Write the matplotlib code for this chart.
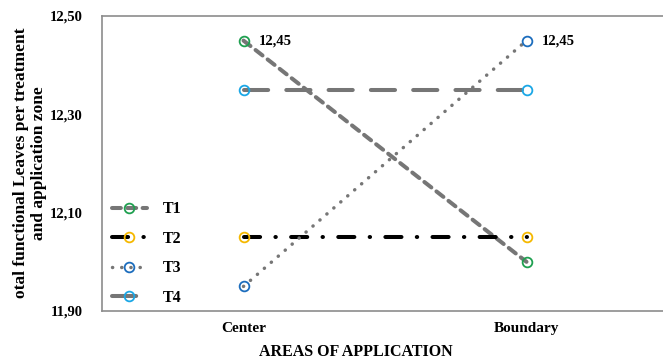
import matplotlib
matplotlib.use("Agg")
import matplotlib.pyplot as plt

# valores
zones = ["Center", "Boundary"]
t1 = [12.45, 12.00]
t2 = [12.05, 12.05]
t3 = [11.95, 12.45]
t4 = [12.35, 12.35]
y_ticks = [11.90, 12.10, 12.30, 12.50]
y_tick_labels = ["11,90", "12,10", "12,30", "12,50"]

plt.rcParams["font.family"] = ["Liberation Serif", "DejaVu Serif"]
plt.rcParams["font.weight"] = "bold"

fig = plt.figure(figsize=(6.63, 3.62), dpi=100)
ax = fig.add_axes([102 / 663, 51 / 362, 566 / 663, 295 / 362])

x = [0, 1]
gray = "#767676"
mk = dict(marker="o", markersize=7, markerfacecolor="none", markeredgewidth=1.3)

ax.plot(x, t1, color=gray, lw=2.9, dashes=(2.2, 1.6), dash_capstyle="round",
        markeredgecolor="#1fa050", label="T1", **mk)
ax.plot(x, t2, color="black", lw=2.9, dashes=(4.0, 3.8, 0.1, 3.8), dash_capstyle="round",
        markeredgecolor="#f5b800", label="T2", **mk)
ax.plot(x, t3, color=gray, lw=2.5, dashes=(0.05, 2.6), dash_capstyle="round",
        markeredgecolor="#1c6dbd", label="T3", **mk)
ax.plot(x, t4, color=gray, lw=2.9, dashes=(6.0, 4.5), dash_capstyle="round",
        markeredgecolor="#1aa7e6", label="T4", **mk)

ax.annotate("12,45", (0, t1[0]), xytext=(11, 0), textcoords="offset points",
            va="center", ha="left", fontsize=10.5, fontweight="bold")
ax.annotate("12,45", (1, t3[1]), xytext=(11, 0), textcoords="offset points",
            va="center", ha="left", fontsize=10.5, fontweight="bold")

ax.set_xlim(-0.5, 1.5)
ax.set_ylim(11.90, 12.50)
ax.set_xticks(x)
ax.set_xticklabels(zones, fontsize=11, fontweight="bold")
ax.set_yticks(y_ticks)
ax.set_yticklabels(y_tick_labels, fontsize=10.5, fontweight="bold")
ax.tick_params(axis="x", length=0, pad=8)
ax.tick_params(axis="y", length=0, pad=14)

for side in ["left", "bottom", "top", "right"]:
    ax.spines[side].set_color("#8c8c8c")
    ax.spines[side].set_linewidth(1.2)

fig.text(356 / 663, 10 / 362, "AREAS OF APPLICATION", ha="center", va="center",
         fontsize=11.5, fontweight="bold")
fig.text(30 / 663, 199 / 362, "otal functional Leaves per treatment\nand application zone",
         rotation=90, ha="center", va="center", fontsize=12.5, fontweight="bold",
         linespacing=1.1)

leg = ax.legend(loc="lower left", bbox_to_anchor=(0.0, -0.015), frameon=False,
                handlelength=2.2, handletextpad=1.0, labelspacing=0.85,
                prop={"size": 11.5, "weight": "bold"}, borderaxespad=0.2)

fig.savefig("out.png", dpi=100)
